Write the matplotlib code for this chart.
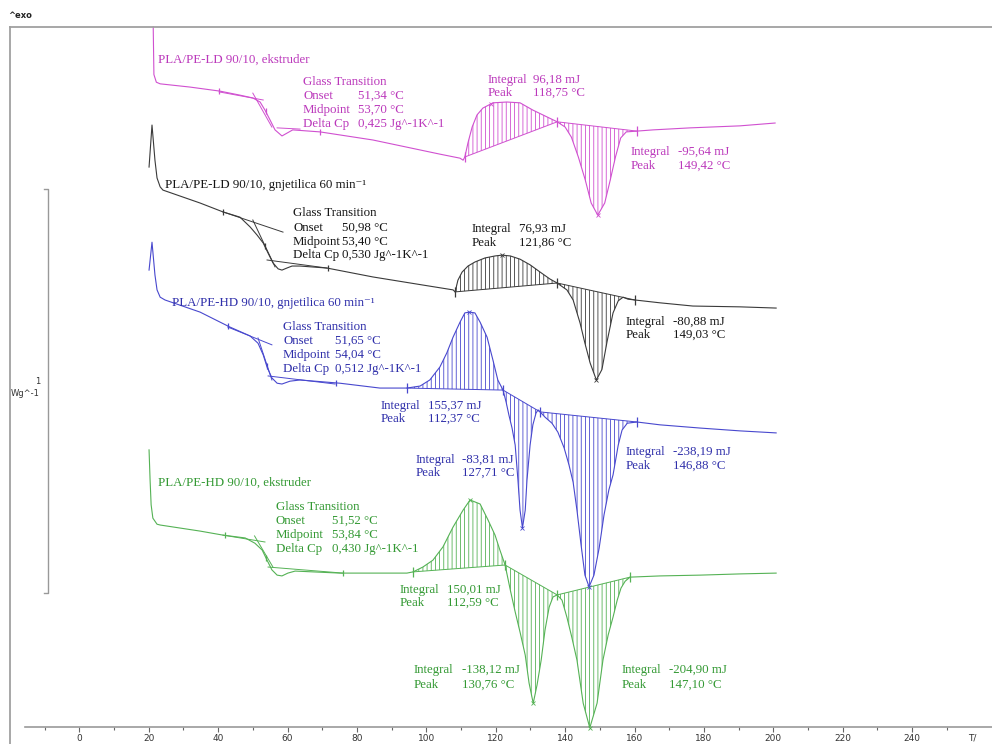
import numpy as np
import matplotlib
matplotlib.use("Agg")
import matplotlib.pyplot as plt
from matplotlib.lines import Line2D

plt.rcParams['hatch.linewidth'] = 0.6

SERIF = ['Liberation Serif', 'DejaVu Serif']
NARROW = ['Liberation Sans Narrow', 'DejaVu Sans']
W, H = 992, 744

# --- PLA/PE-LD 90/10, ekstruder (T in degC, heat flow in W/g, exo up, shifted) ---
ld_ext_T = [21.3, 21.5, 22.2, 23.3, 31.9, 40.5, 46.3, 50.0, 52.1, 53.5, 55.0, 56.4, 58.4, 61.5, 69.4,
            84.6, 103.9, 109.7, 110.6, 111.1, 112.0, 113.2, 114.6, 116.3, 119.2, 123.2, 127.0, 130.7,
            134.8, 137.7, 140.0, 141.8, 143.8, 145.8, 147.5, 149.4, 151.4, 153.0, 154.5, 156.0, 157.6,
            160.7, 165.3, 176.0, 190.4, 200.5]
ld_ext_hf = [1.733, 1.615, 1.596, 1.592, 1.584, 1.574, 1.564, 1.557, 1.547, 1.527, 1.502, 1.478, 1.463,
             1.478, 1.473, 1.453, 1.418, 1.408, 1.403, 1.411, 1.446, 1.485, 1.515, 1.532, 1.545, 1.547,
             1.545, 1.527, 1.510, 1.498, 1.485, 1.460, 1.411, 1.354, 1.297, 1.267, 1.297, 1.354, 1.411,
             1.458, 1.473, 1.475, 1.478, 1.483, 1.488, 1.495]
ld_ext_limits = [111.1, 137.7, 160.7]
ld_ext_peaks = [118.75, 149.42]
ld_ext_integrals = [96.18, -95.64]
ld_ext_tg = [51.34, 53.70, 0.425]
ld_ext_tg_range = [40.3, 69.4]
ld_ext_tangents = [(40.3, 1.572, 53.0, 1.552), (50.0, 1.569, 55.5, 1.485), (57.0, 1.483, 63.6, 1.480)]

# --- PLA/PE-LD 90/10, gnjetilica 60 min-1 ---
ld_kn_T = [20.1, 20.95, 21.8, 22.4, 23.3, 24.1, 34.8, 41.4, 46.3, 49.2, 51.2, 53.0, 54.4, 55.8, 57.3,
           58.4, 59.8, 61.3, 63.6, 71.4, 84.6, 99.0, 107.7, 108.3, 109.1, 110.3, 112.0, 114.0, 116.9,
           119.8, 121.8, 124.2, 127.0, 129.9, 132.8, 135.6, 137.7, 138.5, 140.5, 142.3, 144.3, 145.7,
           147.2, 149.0, 150.6, 152.1, 153.8, 155.3, 156.7, 158.1, 160.1, 167.3, 176.8, 190.4, 200.8]
ld_kn_hf = [1.386, 1.490, 1.403, 1.359, 1.337, 1.329, 1.297, 1.275, 1.262, 1.238, 1.218, 1.198, 1.173,
            1.149, 1.134, 1.131, 1.136, 1.141, 1.141, 1.136, 1.114, 1.094, 1.082, 1.077, 1.106, 1.126,
            1.141, 1.151, 1.161, 1.166, 1.168, 1.166, 1.158, 1.144, 1.126, 1.109, 1.099, 1.094, 1.082,
            1.057, 1.000, 0.950, 0.901, 0.859, 0.885, 0.955, 1.025, 1.055, 1.064, 1.059, 1.057, 1.050,
            1.042, 1.040, 1.037]
ld_kn_limits = [108.3, 137.7, 160.1]
ld_kn_peaks = [121.86, 149.03]
ld_kn_integrals = [76.93, -80.88]
ld_kn_tg = [50.98, 53.40, 0.530]
ld_kn_tg_range = [41.4, 71.6]
ld_kn_tangents = [(41.4, 1.275, 58.7, 1.225), (50.0, 1.255, 56.4, 1.139), (54.1, 1.156, 71.4, 1.136)]

# --- PLA/PE-HD 90/10, gnjetilica 60 min-1 ---
hd_kn_T = [20.1, 20.95, 21.8, 22.4, 23.3, 24.7, 34.8, 43.4, 49.2, 51.5, 53.0, 54.1, 55.5, 57.0, 58.4,
           60.7, 63.6, 75.1, 86.6, 94.4, 98.2, 101.0, 103.9, 105.9, 107.7, 109.7, 111.1, 112.4, 114.0,
           115.5, 117.5, 119.2, 120.6, 122.1, 123.0, 123.8, 124.7, 125.6, 126.4, 127.0, 127.7, 128.5,
           129.0, 129.9, 130.7, 131.6, 132.2, 132.8, 134.2, 136.2, 137.9, 139.7, 141.1, 142.3, 143.4,
           144.6, 145.7, 146.9, 148.3, 149.8, 151.2, 152.6, 153.8, 155.3, 156.4, 157.9, 160.7, 167.3,
           178.9, 190.4, 200.8]
hd_kn_hf = [1.131, 1.200, 1.119, 1.082, 1.064, 1.057, 1.027, 0.990, 0.968, 0.950, 0.921, 0.891, 0.864,
            0.851, 0.849, 0.856, 0.859, 0.851, 0.839, 0.839, 0.844, 0.859, 0.891, 0.926, 0.965, 1.002,
            1.025, 1.027, 1.025, 1.002, 0.965, 0.908, 0.859, 0.834, 0.804, 0.772, 0.740, 0.698, 0.611,
            0.537, 0.493, 0.537, 0.611, 0.698, 0.748, 0.777, 0.785, 0.780, 0.767, 0.752, 0.730, 0.691,
            0.649, 0.606, 0.537, 0.450, 0.376, 0.347, 0.376, 0.443, 0.525, 0.587, 0.624, 0.698, 0.735,
            0.752, 0.755, 0.748, 0.740, 0.733, 0.728]
hd_kn_limits = [94.4, 122.1, 132.8, 160.7]
hd_kn_peaks = [112.37, 127.71, 146.88]
hd_kn_integrals = [155.37, -83.81, -238.19]
hd_kn_tg = [51.65, 54.04, 0.512]
hd_kn_tg_range = [42.8, 74.0]
hd_kn_tangents = [(42.8, 0.990, 55.5, 0.946), (51.5, 0.963, 55.5, 0.859), (54.4, 0.869, 73.7, 0.849)]

# --- PLA/PE-HD 90/10, ekstruder ---
hd_ext_T = [20.1, 20.4, 20.7, 21.2, 22.4, 23.3, 34.8, 41.4, 47.8, 50.6, 52.7, 54.1, 55.5, 57.0, 58.4,
            60.1, 62.2, 75.1, 94.4, 96.2, 99.0, 101.9, 104.8, 107.7, 110.6, 112.6, 115.5, 117.8, 119.8,
            121.2, 122.7, 124.2, 125.6, 127.0, 128.5, 129.6, 130.8, 131.9, 133.1, 134.2, 135.4, 136.5,
            137.7, 139.1, 140.5, 141.9, 143.4, 145.2, 147.1, 149.2, 150.9, 152.4, 153.8, 155.0, 156.1,
            157.3, 158.7, 167.3, 178.9, 190.4, 200.8]
hd_ext_hf = [0.686, 0.611, 0.550, 0.517, 0.502, 0.500, 0.485, 0.475, 0.468, 0.455, 0.438, 0.413, 0.389,
             0.376, 0.374, 0.381, 0.386, 0.381, 0.381, 0.384, 0.396, 0.413, 0.446, 0.495, 0.537, 0.562,
             0.552, 0.512, 0.475, 0.438, 0.401, 0.339, 0.285, 0.235, 0.178, 0.109, 0.059, 0.104, 0.166,
             0.240, 0.297, 0.322, 0.327, 0.314, 0.272, 0.223, 0.166, 0.059, -0.002, 0.059, 0.166, 0.228,
             0.272, 0.314, 0.344, 0.361, 0.371, 0.374, 0.376, 0.379, 0.381]
hd_ext_limits = [96.2, 122.7, 137.7, 158.7]
hd_ext_peaks = [112.59, 130.76, 147.10]
hd_ext_integrals = [150.01, -138.12, -204.90]
hd_ext_tg = [51.52, 53.84, 0.430]
hd_ext_tg_range = [42.0, 76.0]
hd_ext_tangents = [(41.4, 0.475, 53.5, 0.458), (50.5, 0.473, 55.8, 0.396), (54.4, 0.396, 76.0, 0.381)]

samples = [
    dict(name='PLA/PE-LD 90/10, ekstruder', T=ld_ext_T, hf=ld_ext_hf, limits=ld_ext_limits,
         peaks=ld_ext_peaks, integrals=ld_ext_integrals, tg=ld_ext_tg, tg_range=ld_ext_tg_range,
         tangents=ld_ext_tangents, line='#D050D0', text='#BB38BB',
         name_at=(158, 60), tg_at=(303, 358, [82, 96, 110, 124]),
         peak_at=[(488, 533, 80, 93), (631, 678, 152, 166)]),
    dict(name='PLA/PE-LD 90/10, gnjetilica 60 min\u207b\u00b9', T=ld_kn_T, hf=ld_kn_hf, limits=ld_kn_limits,
         peaks=ld_kn_peaks, integrals=ld_kn_integrals, tg=ld_kn_tg, tg_range=ld_kn_tg_range,
         tangents=ld_kn_tangents, line='#3a3a3a', text='#151515',
         name_at=(165, 185), tg_at=(293, 342, [213, 228, 242, 255]),
         peak_at=[(472, 519, 229, 243), (626, 673, 322, 335)]),
    dict(name='PLA/PE-HD 90/10, gnjetilica 60 min\u207b\u00b9', T=hd_kn_T, hf=hd_kn_hf, limits=hd_kn_limits,
         peaks=hd_kn_peaks, integrals=hd_kn_integrals, tg=hd_kn_tg, tg_range=hd_kn_tg_range,
         tangents=hd_kn_tangents, line='#4848CE', text='#2F2FAA',
         name_at=(172, 303), tg_at=(283, 335, [327, 341, 355, 369]),
         peak_at=[(381, 428, 406, 419), (416, 462, 460, 473), (626, 673, 452, 466)]),
    dict(name='PLA/PE-HD 90/10, ekstruder', T=hd_ext_T, hf=hd_ext_hf, limits=hd_ext_limits,
         peaks=hd_ext_peaks, integrals=hd_ext_integrals, tg=hd_ext_tg, tg_range=hd_ext_tg_range,
         tangents=hd_ext_tangents, line='#55B255', text='#339933',
         name_at=(158, 483), tg_at=(276, 332, [507, 521, 535, 549]),
         peak_at=[(400, 447, 590, 603), (414, 462, 670, 685), (622, 669, 670, 685)]),
]


def comma(v, nd=2):
    return f"{v:.{nd}f}".replace('.', ',')


def put(x, y, s, color, **kw):
    fig.text(x / W, 1 - y / H, s, color=color, family=SERIF, fontsize=9.3,
             ha='left', va='center', **kw)


fig = plt.figure(figsize=(W / 100, H / 100), dpi=100)
ax = fig.add_axes([0, 0, 1, 1])
ax.set_xlim(-22.85, 263.0)
ax.set_ylim(-0.042, 1.7995)

for s in samples:
    T = np.array(s['T'])
    hf = np.array(s['hf'])
    c = s['line']
    ax.plot(T, hf, color=c, lw=0.8, zorder=3)

    # integration baselines with vertical hatching
    lims = s['limits']
    for a, b in zip(lims[:-1], lims[1:]):
        ha, hb = np.interp(a, T, hf), np.interp(b, T, hf)
        m = (T >= a) & (T <= b)
        base = np.interp(T[m], [a, b], [ha, hb])
        ax.fill_between(T[m], hf[m], base, facecolor='none', edgecolor=c,
                        hatch='||||', linewidth=0, zorder=2)
        ax.plot([a, b], [ha, hb], color=c, lw=0.7, zorder=3)
    ax.plot(lims, np.interp(lims, T, hf), ls='none', marker='|', ms=7, mew=0.9, color=c, zorder=4)
    ax.plot(s['peaks'], np.interp(s['peaks'], T, hf), ls='none', marker='x', ms=3.5, mew=0.6,
            color=c, zorder=4)

    # glass transition construction
    for t1, h1, t2, h2 in s['tangents']:
        ax.plot([t1, t2], [h1, h2], color=c, lw=0.7, zorder=3)
    ax.plot(s['tg_range'], np.interp(s['tg_range'], T, hf), ls='none', marker='|', ms=4,
            mew=0.9, color=c, zorder=4)
    ax.plot([s['tg'][1]], [np.interp(s['tg'][1], T, hf)], ls='none', marker='|', ms=4,
            mew=0.9, color=c, zorder=4)

    tc = s['text']
    put(*s['name_at'], s['name'], tc)
    lx, vx, ys = s['tg_at']
    put(lx, ys[0], 'Glass Transition', tc)
    put(lx, ys[1], 'Onset', tc)
    put(vx, ys[1], f"{comma(s['tg'][0])} \u00b0C", tc)
    put(lx, ys[2], 'Midpoint', tc)
    put(vx, ys[2], f"{comma(s['tg'][1])} \u00b0C", tc)
    put(lx, ys[3], 'Delta Cp', tc)
    put(vx, ys[3], f"{comma(s['tg'][2], 3)} Jg^-1K^-1", tc)
    for (lx, vx, y1, y2), pk, integ in zip(s['peak_at'], s['peaks'], s['integrals']):
        put(lx, y1, 'Integral', tc)
        put(vx, y1, f"{comma(integ)} mJ", tc)
        put(lx, y2, 'Peak', tc)
        put(vx, y2, f"{comma(pk)} \u00b0C", tc)

# 1 W/g scale bar
ax.plot([-10.2, -9.0, -9.0, -10.2], [1.332, 1.332, 0.332, 0.332], color='#999999', lw=1.0)
fig.text(40 / W, 1 - 382 / H, '1', fontsize=6, ha='right', va='center', color='#333333')
fig.text(40 / W, 1 - 393 / H, 'Wg^-1', fontsize=6, ha='right', va='center', color='#333333')

# temperature axis
for side in ['left', 'right', 'top']:
    ax.spines[side].set_visible(False)
ax.spines['bottom'].set_position(('data', 0))
ax.spines['bottom'].set_bounds(-15.6, 263.0)
ax.spines['bottom'].set_color('#9a9a9a')
ax.spines['bottom'].set_linewidth(1.2)
ax.set_xticks(range(0, 241, 20))
ax.set_xticks(range(-10, 260, 20), minor=True)
ax.set_yticks([])
ax.tick_params(axis='x', which='major', direction='out', length=3.6, width=0.8, color='#666666',
               pad=1.2, labelsize=6.5, labelcolor='#333333')
ax.tick_params(axis='x', which='minor', direction='out', length=2.2, width=0.8, color='#666666')
for lab in ax.get_xticklabels():
    lab.set_family(NARROW)
fig.text(968 / W, 1 - 738 / H, 'T/', fontsize=6.5, family=NARROW, ha='left', va='center',
         color='#333333')

# frame
fig.add_artist(Line2D([10 / W, 10 / W], [0, 1 - 27 / H], color='#a0a0a0', lw=1.3))
fig.add_artist(Line2D([10 / W, 1], [1 - 27 / H, 1 - 27 / H], color='#a0a0a0', lw=1.3))
fig.text(8 / W, 1 - 15 / H, '^exo', fontsize=6, weight='bold', ha='left', va='center',
         color='#222222')

fig.savefig('out.png', dpi=100)
